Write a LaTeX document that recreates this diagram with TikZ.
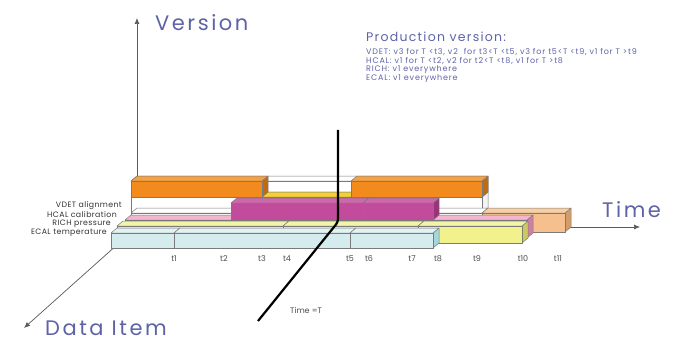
\documentclass[tikz,border=0pt]{standalone}
\usepackage{fontspec}
\setmainfont{Poppins}
\newfontfamily\axisfont[LetterSpace=12]{Poppins}
\newfontfamily\notefont[LetterSpace=10]{Poppins}
\newfontfamily\rowfont[LetterSpace=5]{Poppins}
\usetikzlibrary{arrows.meta}

\definecolor{inkblue}{HTML}{5E63A8}
\definecolor{axisgray}{HTML}{5A5A5A}
\definecolor{edgegray}{HTML}{7A7A7A}
% bar colours: front / top / side
\definecolor{orF}{HTML}{F28A1E}\definecolor{orT}{HTML}{F6A040}\definecolor{orS}{HTML}{C06A12}
\definecolor{goF}{HTML}{F2C40A}\definecolor{goT}{HTML}{F5D030}\definecolor{goS}{HTML}{C8A000}
\definecolor{maF}{HTML}{C24B9C}\definecolor{maT}{HTML}{D066AE}\definecolor{maS}{HTML}{98357A}
\definecolor{piF}{HTML}{F2A6C4}\definecolor{piT}{HTML}{F4B6CE}\definecolor{piS}{HTML}{D07FA0}
\definecolor{yeF}{HTML}{F2F28C}\definecolor{yeT}{HTML}{F4F4A8}\definecolor{yeS}{HTML}{CACA60}
\definecolor{peF}{HTML}{F6C08E}\definecolor{peT}{HTML}{F8CFA4}\definecolor{peS}{HTML}{D49C68}
\definecolor{cyF}{HTML}{D5ECEE}\definecolor{cyT}{HTML}{E2F2F3}\definecolor{cyS}{HTML}{A6D6DA}
\definecolor{whS}{HTML}{F4F4F4}

\tikzset{
  edge/.style={draw=edgegray, line width=0.5pt, line join=round},
  axis/.style={draw=axisgray, line width=0.7pt, -{Latex[length=6pt,width=5pt]}},
  axislabel/.style={text=inkblue, font=\axisfont\fontsize{21}{21}\selectfont, inner sep=0pt, anchor=base west, text depth=0pt},
  notetitle/.style={text=inkblue, font=\notefont\fontsize{12.5}{13}\selectfont, inner sep=0pt, anchor=west},
  noteline/.style={text=inkblue, font=\notefont\fontsize{8}{9}\selectfont, inner sep=0pt, anchor=west},
  rowlabel/.style={text=black!80, font=\rowfont\fontsize{7.8}{8}\selectfont, inner sep=0pt, anchor=east},
  ticklabel/.style={text=black!70, font=\fontsize{8}{9}\selectfont, inner sep=0pt},
  cursor/.style={draw=black, line width=2.2pt, rounded corners=3pt}
}

% a bar seen in oblique view: #1,#2 left/right, #3,#4 top/bottom of the front face;
% #5 front, #6 top, #7 side colour
\newcommand\blockbar[7]{%
  \filldraw[edge, fill=#7] ({#2},{#3}) -- ({#2+6},{#3-5}) -- ({#2+6},{#4-5}) -- ({#2},{#4}) -- cycle;
  \filldraw[edge, fill=#6] ({#1},{#3}) -- ({#1+6},{#3-5}) -- ({#2+6},{#3-5}) -- ({#2},{#3}) -- cycle;
  \filldraw[edge, fill=#5] ({#1},{#3}) rectangle ({#2},{#4});
}

\begin{document}
\begin{tikzpicture}[x=1pt, y=-1pt]
\fill[white] (0,0) rectangle (677,342);
\useasboundingbox (0,0) rectangle (677,342);

% axes
\coordinate (origin) at (137,227);
\coordinate (vtip) at (137,18);
\coordinate (ttip) at (640,227);
\coordinate (dtip) at (24,328);
\draw[axis] (origin) -- (vtip);
\draw[axis] (origin) -- (ttip);
\draw[axis] (origin) -- (dtip);

% VDET row: empty version slots, then the versions in use
\blockbar{131}{482}{181}{197}{white}{white}{whS}
\blockbar{131}{482}{197}{213}{white}{white}{whS}
\blockbar{131}{482}{213}{232}{white}{white}{whS}
\blockbar{482}{565}{213}{232}{peF}{peT}{peS}
\blockbar{262}{351}{197}{213}{goF}{goT}{goS}
\blockbar{131}{262}{181}{197}{orF}{orT}{orS}
\blockbar{351}{482}{181}{197}{orF}{orT}{orS}

% HCAL row
\blockbar{125}{231}{220}{238}{piF}{piT}{piS}
\blockbar{433}{527}{220}{238}{piF}{piT}{piS}
\blockbar{231}{363}{203}{220}{maF}{maT}{maS}
\blockbar{363}{433}{203}{220}{maF}{maT}{maS}

% RICH row
\blockbar{117}{283}{226}{243}{yeF}{yeT}{yeS}
\blockbar{283}{418}{226}{243}{yeF}{yeT}{yeS}
\blockbar{418}{522}{226}{243}{yeF}{yeT}{yeS}

% ECAL row
\blockbar{111}{174}{233}{248}{cyF}{cyT}{cyS}
\blockbar{174}{350}{233}{248}{cyF}{cyT}{cyS}
\blockbar{350}{433}{233}{248}{cyF}{cyT}{cyS}

% the moment T
\coordinate (ctop) at (338,130);
\coordinate (cbend) at (338,222);
\coordinate (cend) at (258,321);
\draw[cursor] (ctop) -- (cbend) -- (cend);
\node[ticklabel, anchor=west] (tlabel) at (290,310) {Time =T};

% axis titles
\node[axislabel] (version) at (155,31) {Version};
\node[axislabel] (time) at (602,217) {Time};
\node[axislabel] (dataitem) at (45,335) {Data Item};

% row names
\node[rowlabel] (rv) at (122,206) {VDET alignment};
\node[rowlabel] (rh) at (117,215) {HCAL calibration};
\node[rowlabel] (rr) at (111,224) {RICH pressure};
\node[rowlabel] (re) at (107,233) {ECAL temperature};

% time marks
\foreach \lab/\xx in {t1/174, t2/224, t3/262, t4/287, t5/350, t6/369, t7/412, t8/438, t9/477, t10/523, t11/558}
  \node[ticklabel] (m\lab) at (\xx,259) {\lab};

% production versions
\node[notetitle] (ptitle) at (366,37) {Production version:};
\node[noteline] (pv) at (366,52) {VDET: v3 for T <t3, v2\ \ for t3<T <t5, v3 for t5<T <t9, v1 for T >t9};
\node[noteline] (ph) at (366,61) {HCAL: v1 for T <t2, v2 for t2<T <t8, v1 for T >t8};
\node[noteline] (pr) at (366,70) {RICH: v1 everywhere};
\node[noteline] (pe) at (366,79) {ECAL: v1 everywhere};
\end{tikzpicture}
\end{document}
